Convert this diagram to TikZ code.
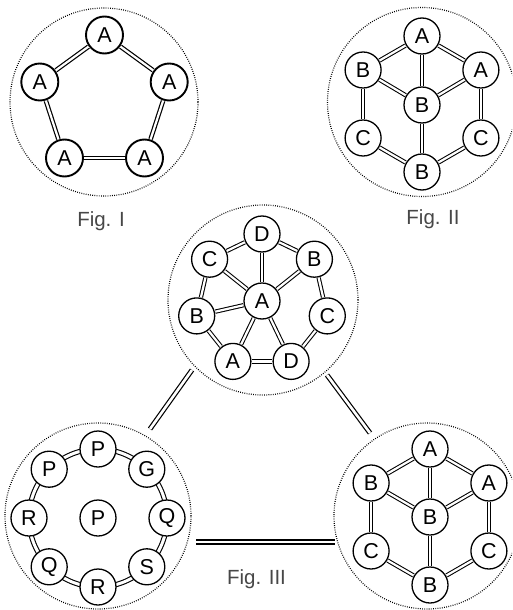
\documentclass[tikz,border=0pt]{standalone}
\usepackage{fontspec}
\setmainfont{Liberation Sans}
\begin{document}
\begin{tikzpicture}[x=1pt,y=-1pt,
  every node/.style={inner sep=0pt},
  nd/.style={circle,draw,line width=1.3pt,minimum size=36pt,fill=white,font=\fontsize{21.5}{21.5}\selectfont},
  ndI/.style={nd,line width=1.9pt,minimum size=37pt},
  dbl/.style={double,double distance=2.2pt,line width=1.05pt,shorten <=0.4pt,shorten >=0.4pt},
  dblI/.style={double,double distance=2.2pt,line width=1.2pt,shorten <=0.4pt,shorten >=0.4pt},
  ring/.style={double,double distance=3pt,line width=1.1pt},
  diag/.style={double,double distance=2.6pt,line width=1.2pt},
  horiz/.style={double,double distance=2.5pt,line width=2pt},
  outer/.style={circle,draw=black,line width=1.2pt,dash pattern=on 0.8pt off 1.4pt,minimum size=#1},
  figlabel/.style={text=black!72,font=\fontsize{20.5}{20.5}\selectfont,anchor=base},
]
\useasboundingbox (0,0) rectangle (512,610);
\clip (0,0) rectangle (512,610);

% ---------- outer dotted circles ----------
\node[outer=188pt] (c1) at (104,102) {};
\node[outer=189pt] (c2) at (422,102) {};
\node[outer=190pt] (c3) at (263,300) {};
\node[outer=186pt] (c4) at (98,516) {};
\node[outer=186pt] (c5) at (427,516) {};

% ---------- Fig. I ----------
\node[ndI] (a1) at (104.5,35) {A};
\node[ndI] (a2) at (169.2,82) {A};
\node[ndI] (a3) at (144.5,158) {A};
\node[ndI] (a4) at (64.5,158) {A};
\node[ndI] (a5) at (39.8,82) {A};
\draw[dblI] (a1) -- (a2);
\draw[dblI] (a2) -- (a3);
\draw[dblI] (a3) -- (a4);
\draw[dblI] (a4) -- (a5);
\draw[dblI] (a5) -- (a1);
\node[figlabel] (l1) at (101,226) {Fig. I};

% ---------- Fig. II ----------
\node[nd] (b1) at (422,36) {A};
\node[nd] (b2) at (480.9,70) {A};
\node[nd] (b3) at (480.9,138) {C};
\node[nd] (b4) at (422,172) {B};
\node[nd] (b5) at (363.1,138) {C};
\node[nd] (b6) at (363.1,70) {B};
\node[nd] (b7) at (422,105) {B};
\draw[dbl] (b1) -- (b2);
\draw[dbl] (b2) -- (b3);
\draw[dbl] (b3) -- (b4);
\draw[dbl] (b4) -- (b5);
\draw[dbl] (b5) -- (b6);
\draw[dbl] (b6) -- (b1);
\draw[dbl] (b1) -- (b7);
\draw[dbl] (b6) -- (b7);
\draw[dbl] (b2) -- (b7);
\draw[dbl] (b7) -- (b4);
\node[figlabel] (l2) at (433,224) {Fig. II};

% ---------- Fig. III top ----------
\node[nd] (d1) at (262,234) {D};
\node[nd] (d2) at (314.4,259.2) {B};
\node[nd] (d3) at (327.3,315.9) {C};
\node[nd] (d4) at (291.1,361.4) {D};
\node[nd] (d5) at (232.9,361.4) {A};
\node[nd] (d6) at (196.7,315.9) {B};
\node[nd] (d7) at (209.6,259.2) {C};
\node[nd] (d0) at (262,301) {A};
\draw[dbl] (d1) -- (d2);
\draw[dbl] (d2) -- (d3);
\draw[dbl] (d3) -- (d4);
\draw[dbl] (d4) -- (d5);
\draw[dbl] (d5) -- (d6);
\draw[dbl] (d6) -- (d7);
\draw[dbl] (d7) -- (d1);
\draw[dbl] (d0) -- (d1);
\draw[dbl] (d0) -- (d2);
\draw[dbl] (d0) -- (d4);
\draw[dbl] (d0) -- (d5);
\draw[dbl] (d0) -- (d6);
\draw[dbl] (d0) -- (d7);

% ---------- Fig. III bottom left ----------
\coordinate (c4c) at (98,518);
\draw[ring] (c4c) circle[radius=69pt];
\node[nd] (e1) at (98,449) {P};
\node[nd] (e2) at (146.8,469.2) {G};
\node[nd] (e3) at (167,518) {Q};
\node[nd] (e4) at (146.8,566.8) {S};
\node[nd] (e5) at (98,587) {R};
\node[nd] (e6) at (49.2,566.8) {Q};
\node[nd] (e7) at (29,518) {R};
\node[nd] (e8) at (49.2,469.2) {P};
\node[nd] (e0) at (98,518) {P};

% ---------- Fig. III bottom right ----------
\node[nd] (f1) at (430,449) {A};
\node[nd] (f2) at (488.9,483) {A};
\node[nd] (f3) at (488.9,551) {C};
\node[nd] (f4) at (430,585) {B};
\node[nd] (f5) at (371.1,551) {C};
\node[nd] (f6) at (371.1,483) {B};
\node[nd] (f7) at (430,517) {B};
\draw[dbl] (f1) -- (f2);
\draw[dbl] (f2) -- (f3);
\draw[dbl] (f3) -- (f4);
\draw[dbl] (f4) -- (f5);
\draw[dbl] (f5) -- (f6);
\draw[dbl] (f6) -- (f1);
\draw[dbl] (f1) -- (f7);
\draw[dbl] (f6) -- (f7);
\draw[dbl] (f2) -- (f7);
\draw[dbl] (f7) -- (f4);

% ---------- connectors between Fig. III parts ----------
\coordinate (p1) at (192,370);
\coordinate (p2) at (150,429);
\coordinate (p3) at (327,375);
\coordinate (p4) at (370,433);
\coordinate (p5) at (196,542);
\coordinate (p6) at (335,542);
\draw[diag] (p1) -- (p2);
\draw[diag] (p3) -- (p4);
\draw[horiz] (p5) -- (p6);
\node[figlabel] (l3) at (256.5,584) {Fig. III};
\end{tikzpicture}
\end{document}
